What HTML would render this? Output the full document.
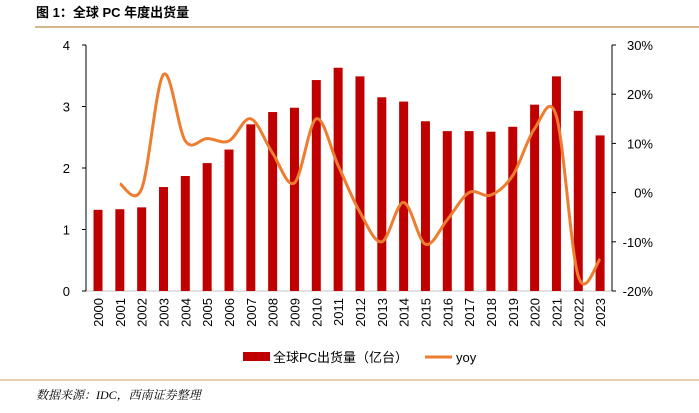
<!DOCTYPE html>
<html><head><meta charset="utf-8"><style>
body{margin:0;background:#fff;width:699px;height:408px;overflow:hidden;font-family:"Liberation Sans","Noto Sans CJK SC",sans-serif}
</style></head><body>
<svg width="699" height="408" xmlns="http://www.w3.org/2000/svg">
<text x="36" y="17" font-size="13" font-weight="bold" fill="#000" font-family="Liberation Sans,Noto Sans CJK SC,sans-serif">图 1：全球 PC 年度出货量</text>
<line x1="35" y1="27" x2="699" y2="27" stroke="#c9a063" stroke-width="1.5"/>
<line x1="0" y1="380" x2="699" y2="380" stroke="#c9a063" stroke-width="1"/>
<text x="36" y="399" font-size="12" font-style="italic" fill="#000" font-family="Liberation Serif,Noto Serif CJK SC,serif">数据来源：IDC，西南证券整理</text>
<g id="plot"></g>
</svg>
<script>
const years=["2000","2001","2002","2003","2004","2005","2006","2007","2008","2009","2010","2011","2012","2013","2014","2015","2016","2017","2018","2019","2020","2021","2022","2023"];
const shipments=[1.32,1.33,1.36,1.69,1.87,2.08,2.30,2.71,2.91,2.98,3.43,3.63,3.49,3.15,3.08,2.76,2.60,2.60,2.59,2.67,3.03,3.49,2.93,2.53];
const yoy=[null,1.8,0.8,24,10.5,11,10.5,15,8,2,15,5.5,-4,-10,-2,-10.5,-5.5,0,-0.5,3.5,13,15.5,-17,-13.5];
const leftTicks=[0,1,2,3,4];
const rightTicks=[-20,-10,0,10,20,30];
const NS="http://www.w3.org/2000/svg";
const plotG=document.getElementById('plot');
const x0=98,dx=21.83,yTop=45,yBot=291;
const xs=i=>x0+i*dx;
const yl=v=>yBot-(v/4)*(yBot-yTop);
const yr=v=>yBot-((v+20)/50)*(yBot-yTop);
function mk(t,a){const el=document.createElementNS(NS,t);for(const k in a)el.setAttribute(k,a[k]);plotG.appendChild(el);return el;}
let el=mk('line',{x1:86,y1:yBot,x2:612,y2:yBot,stroke:'#d9d9d9','stroke-width':1.5});


el=mk('line',{x1:86,y1:yTop,x2:86,y2:yBot,stroke:'#000','stroke-width':1});


el=mk('line',{x1:612,y1:yTop,x2:612,y2:yBot,stroke:'#000','stroke-width':1});


leftTicks.forEach(v=>{
 mk('line',{x1:82,y1:yl(v),x2:86,y2:yl(v),stroke:'#000'});
 el=mk('text',{x:70,y:yl(v)+5,'font-size':13,'text-anchor':'end',fill:'#000'});el.textContent=v;
 
 
});
rightTicks.forEach(v=>{
 mk('line',{x1:612,y1:yr(v),x2:616,y2:yr(v),stroke:'#000'});
 el=mk('text',{x:653,y:yr(v)+5,'font-size':13,'text-anchor':'end',fill:'#000'});el.textContent=v+'%';
 
 
});
shipments.forEach((v,i)=>{
 el=mk('rect',{x:xs(i)-4.5,y:yl(v),width:9,height:yBot-yl(v),fill:'#c00000'});
 
 
});
years.forEach((y,i)=>{
 el=mk('text',{x:0,y:0,'font-size':13,'text-anchor':'end',fill:'#000',transform:`translate(${xs(i)+5},${yBot+7}) rotate(-90)`});el.textContent=y;
 
 
});
const pts=[];yoy.forEach((v,i)=>{if(v!==null)pts.push([xs(i),yr(v)]);});
let d=`M${pts[0][0]},${pts[0][1]}`;
for(let i=0;i<pts.length-1;i++){
 const p0=pts[Math.max(i-1,0)],p1=pts[i],p2=pts[i+1],p3=pts[Math.min(i+2,pts.length-1)];
 const c1=[p1[0]+(p2[0]-p0[0])/6,p1[1]+(p2[1]-p0[1])/6],c2=[p2[0]-(p3[0]-p1[0])/6,p2[1]-(p3[1]-p1[1])/6];
 d+=`C${c1[0]},${c1[1]} ${c2[0]},${c2[1]} ${p2[0]},${p2[1]}`;
}
el=mk('path',{d:d,fill:'none',stroke:'#ed7d31','stroke-width':3});


el=mk('rect',{x:243,y:352,width:27,height:9,fill:'#c00000'});


el=mk('text',{x:273,y:362,'font-size':13,fill:'#000'});el.textContent='全球PC出货量（亿台）';


el=mk('line',{x1:425,y1:357,x2:452,y2:357,stroke:'#ed7d31','stroke-width':3});


el=mk('text',{x:456,y:362,'font-size':13,fill:'#000'});el.textContent='yoy';


</script>
</body></html>
